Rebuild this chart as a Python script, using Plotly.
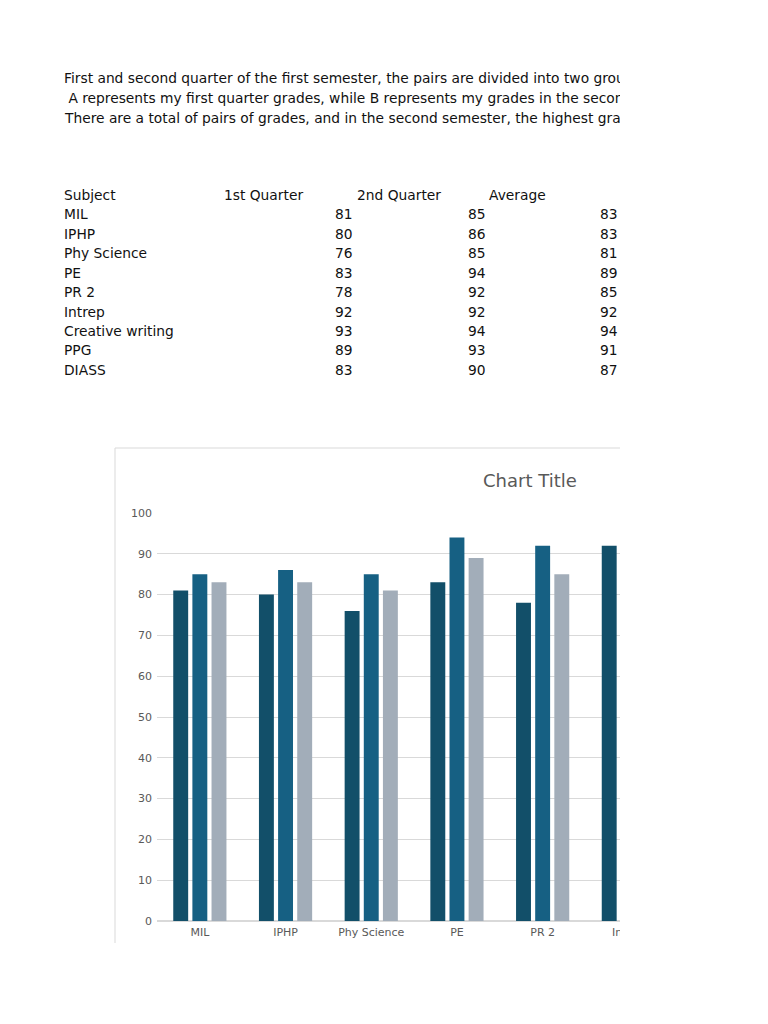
import plotly.graph_objects as go

subjects = ["MIL", "IPHP", "Phy Science", "PE", "PR 2", "Intrep",
            "Creative writing", "PPG", "DIASS"]
first_quarter = [81, 80, 76, 83, 78, 92, 93, 89, 83]
second_quarter = [85, 86, 85, 94, 92, 92, 94, 93, 90]
average = [83, 83, 81, 89, 85, 92, 94, 91, 87]

intro_lines = [
    "First and second quarter of the first semester, the pairs are divided into two groups.",
    "&nbsp;A represents my first quarter grades, while B represents my grades in the second quarter.",
    "There are a total of pairs of grades, and in the second semester, the highest grade.",
]
table_header = ["Subject", "1st Quarter", "2nd Quarter", "Average"]

# page offset: the body margin pushes the plot 8px right/down
OFF = 8
W, H = 620 - OFF, 1024 - OFF
FONT = "DejaVu Sans"


def px(x):
    return (x - OFF) / W


def py(y):
    return 1 - (y - OFF) / H


def text_note(x, y, text, anchor="left", size=13.8, color="#111111"):
    # annotations carry ~2px of padding, so nudge them back
    if anchor == "left":
        x -= 2
    elif anchor == "right":
        x += 2
    return dict(x=px(x), y=py(y), xref="paper", yref="paper", text=text,
                xanchor=anchor, yanchor="middle", showarrow=False,
                font=dict(size=size, color=color, family=FONT))


colors = ["#124f69", "#166083", "#a2adb9"]

fig = go.Figure()
for name, vals, col in zip(["1st Quarter", "2nd Quarter", "Average"],
                           [first_quarter, second_quarter, average], colors):
    fig.add_trace(go.Bar(x=subjects, y=vals, name=name, marker_color=col,
                         marker_line_width=0))

annotations = []
for i, line in enumerate(intro_lines):
    annotations.append(text_note(64, 78 + 20 * i, line))

header_x = [64, 224, 357, 489]
for hx, label in zip(header_x, table_header):
    annotations.append(text_note(hx, 195, label))

for r, subj in enumerate(subjects):
    row_y = 214.5 + 19.4 * r
    annotations.append(text_note(64, row_y, subj))
    for cx, vals in zip([353, 486, 618], [first_quarter, second_quarter, average]):
        annotations.append(text_note(cx, row_y, str(vals[r]), anchor="right"))

annotations.append(text_note(530, 480, "Chart Title", anchor="center", size=18,
                             color="#595959"))

cat_w = 85.7
plot_left = 157

# the axis hides the cut-off "Intrep" tick, so place it by hand (svg edge clips it)
k = subjects.index("Intrep")
annotations.append(text_note(plot_left + (k + 0.5) * cat_w, 932, subjects[k],
                             anchor="center", size=11, color="#595959"))

# chart frame (left and top edges, rest is cut off)
shapes = [
    dict(type="line", xref="paper", yref="paper", x0=px(115), x1=px(115),
         y0=py(448), y1=py(943), line=dict(color="#d9d9d9", width=1)),
    dict(type="line", xref="paper", yref="paper", x0=px(115), x1=1,
         y0=py(448), y1=py(448), line=dict(color="#d9d9d9", width=1)),
]

fig.update_layout(
    width=W, height=H,
    margin=dict(l=0, r=0, t=0, b=0, autoexpand=False),
    paper_bgcolor="white", plot_bgcolor="white",
    showlegend=False,
    barmode="group", bargap=0.33, bargroupgap=0.22,
    annotations=annotations, shapes=shapes,
    font=dict(family=FONT),
    xaxis=dict(domain=[px(plot_left), 1],
               range=[-0.5, -0.5 + (620 - plot_left) / cat_w],
               showgrid=False, zeroline=False, showline=False, ticks="",
               automargin=False, ticklabelstandoff=3,
               tickfont=dict(size=11, color="#595959"), fixedrange=True),
    yaxis=dict(domain=[py(921), py(513)], range=[0, 100], dtick=10,
               showgrid=True, gridcolor="#d9d9d9", gridwidth=1,
               zeroline=True, zerolinecolor="#d9d9d9", showline=False, ticks="",
               automargin=False, ticklabelstandoff=4,
               tickfont=dict(size=11, color="#595959")),
)

fig.write_html("out.html")
